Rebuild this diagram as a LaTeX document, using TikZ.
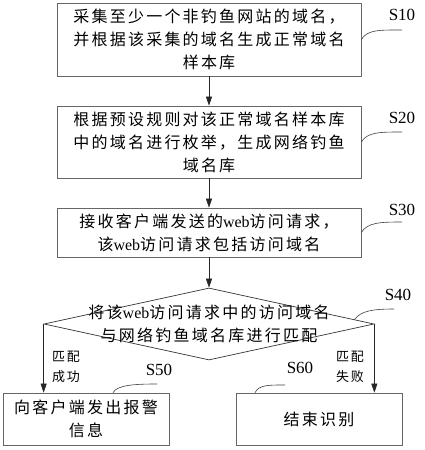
\documentclass[tikz,border=0pt]{standalone}
\usepackage{fontspec}
\setmainfont{Liberation Serif}
\newfontfamily\cjk[LetterSpace=14]{Noto Sans CJK SC}
\usetikzlibrary{shapes.geometric, arrows.meta, positioning, calc}

\newcommand{\webtxt}{{\rmfamily web}}

\begin{document}
\begin{tikzpicture}[x=1pt, y=-1pt,
        stepbox/.style={draw=black!60, line width=0.7pt, inner sep=0pt, align=center,
            font=\cjk\fontsize{16}{23}\selectfont},
        decision/.style={diamond, draw=black!80, line width=0.7pt, inner sep=0pt},
        flow/.style={draw=black!85, line width=0.6pt, -{Triangle[length=9pt,width=6pt]}},
        tag/.style={font=\fontsize{17}{20}\selectfont},
        hook/.style={draw=black!75, line width=0.6pt},
        branch/.style={font=\cjk\fontsize{13}{20}\selectfont, align=left}]
        \useasboundingbox (0,0) rectangle (424,450);

        % Process steps
        \node[stepbox, minimum width=304pt, minimum height=73pt] (s10) at (209,39.5)
            {采集至少一个非钓鱼网站的域名，\\并根据该采集的域名生成正常域名\\样本库};
        \node[stepbox, minimum width=304pt, minimum height=72pt] (s20) at (209,142)
            {根据预设规则对该正常域名样本库\\中的域名进行枚举，生成网络钓鱼\\域名库};
        \node[stepbox, minimum width=304pt, minimum height=49pt] (s30) at (209,232.5)
            {接收客户端发送的\webtxt 访问请求，\\该\webtxt 访问请求包括访问域名};

        % Decision
        \node[decision, minimum width=330pt, minimum height=72pt] (s40) at (209,324) {};
        \node[stepbox, draw=none] (s40txt) at (209,324)
            {将该\webtxt 访问请求中的访问域名\\与网络钓鱼域名库进行匹配};

        % Outcomes
        \node[stepbox, minimum width=166pt, minimum height=52pt] (s50) at (86,419)
            {向客户端发出报警\\信息};
        \node[stepbox, minimum width=166pt, minimum height=52pt] (s60) at (319,419)
            {结束识别};

        % Arrows
        \draw[flow] (s10) -- (s20);
        \draw[flow] (s20) -- (s30);
        \draw[flow] (s30) -- (s40);
        \draw[flow] (s40.west) -- (s40.west |- s50.north);
        \draw[flow] (s40.east) -- (s40.east |- s60.north);

        % Branch labels
        \node[branch] (yes) at (66,367) {匹配\\成功};
        \node[branch] (no) at (350,367) {匹配\\失败};

        % Step tags
        \node[tag] (t10) at (402,15) {S10};
        \node[tag] (t20) at (402,118) {S20};
        \node[tag] (t30) at (402,210) {S30};
        \node[tag] (t40) at (398,295) {S40};
        \node[tag] (t50) at (159,370) {S50};
        \node[tag] (t60) at (300,368) {S60};

        % Leader curves
        \coordinate (c40) at ($(s40.east)!0.12!(s40.north)$);
        \draw[hook] (s10.east) .. controls +(6,-10) and +(-22,0) .. ($(t10)+(0,15)$);
        \draw[hook] (s20.east) .. controls +(6,-10) and +(-22,0) .. ($(t20)+(0,14)$);
        \draw[hook] (s30.east) .. controls +(6,-10) and +(-22,0) .. ($(t30)+(0,12)$);
        \draw[hook] (c40) .. controls +(6,-9) and +(-20,0) .. ($(t40)+(-4,14)$);
        \draw[hook] ([xshift=27pt]s50.north) .. controls +(4,-8) and +(-20,0) .. ($(t50)+(-2,14)$);
        \draw[hook] ([xshift=-64pt]s60.north) .. controls +(4,-8) and +(-16,0) .. ($(t60)+(-15,17)$);
    \end{tikzpicture}
\end{document}
